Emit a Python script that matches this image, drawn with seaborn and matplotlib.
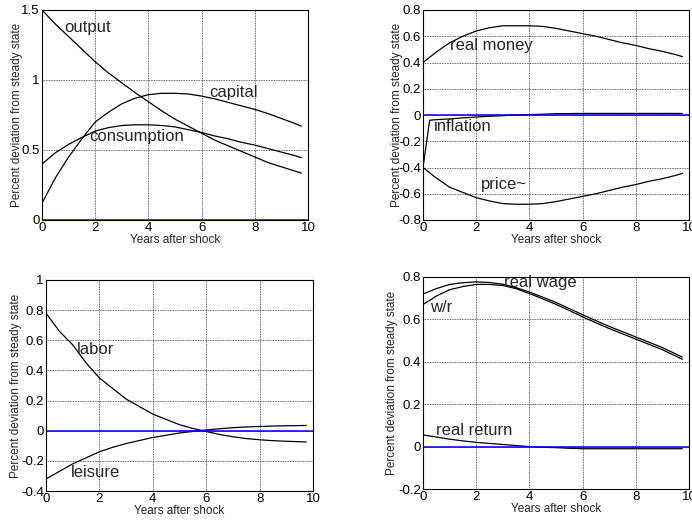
import numpy as np
import pandas as pd
import matplotlib
matplotlib.use("Agg")
import matplotlib.pyplot as plt
import seaborn as sns

# ---------------- data ----------------
years = [0, 0.5, 1, 1.5, 2, 2.5, 3, 3.5, 4, 4.5, 5, 5.5, 6, 6.5, 7, 7.5, 8, 8.5, 9, 9.5, 9.75]

output = [1.50, 1.40, 1.31, 1.22, 1.13, 1.05, 0.98, 0.91, 0.845, 0.78, 0.72, 0.67, 0.62,
          0.57, 0.53, 0.49, 0.45, 0.41, 0.38, 0.35, 0.335]
capital = [0.12, 0.30, 0.45, 0.58, 0.70, 0.77, 0.83, 0.87, 0.895, 0.905, 0.905, 0.90, 0.885,
           0.865, 0.84, 0.815, 0.79, 0.76, 0.725, 0.69, 0.67]
consumption = [0.40, 0.48, 0.54, 0.59, 0.635, 0.66, 0.675, 0.68, 0.68, 0.675, 0.665, 0.645, 0.625,
               0.60, 0.58, 0.555, 0.535, 0.51, 0.485, 0.46, 0.445]

real_money = [0.40, 0.48, 0.55, 0.60, 0.64, 0.665, 0.68, 0.68, 0.68, 0.675, 0.66, 0.64, 0.62,
              0.60, 0.575, 0.55, 0.53, 0.505, 0.485, 0.46, 0.445]
price = [-0.40, -0.48, -0.55, -0.59, -0.63, -0.655, -0.675, -0.68, -0.68, -0.675, -0.66, -0.64, -0.62,
         -0.60, -0.575, -0.55, -0.53, -0.505, -0.485, -0.46, -0.445]
infl_years = [0, 0.25, 0.5, 1, 1.5, 2, 2.5, 3, 3.5, 4, 4.5, 5, 6, 7, 8, 9, 9.75]
inflation = [-0.40, -0.04, -0.035, -0.03, -0.022, -0.015, -0.01, -0.005, 0.0, 0.003, 0.006, 0.01,
             0.012, 0.012, 0.012, 0.012, 0.012]

labor = [0.78, 0.66, 0.57, 0.45, 0.35, 0.28, 0.21, 0.16, 0.11, 0.075, 0.04, 0.015, -0.005,
         -0.025, -0.04, -0.052, -0.06, -0.066, -0.07, -0.073, -0.075]
leisure = [-0.32, -0.27, -0.22, -0.18, -0.14, -0.11, -0.085, -0.065, -0.045, -0.03, -0.015, -0.005, 0.005,
           0.013, 0.02, 0.025, 0.028, 0.031, 0.033, 0.034, 0.035]

real_wage = [0.72, 0.745, 0.765, 0.773, 0.777, 0.774, 0.766, 0.75, 0.729, 0.705, 0.68, 0.651, 0.622,
             0.594, 0.567, 0.542, 0.517, 0.492, 0.467, 0.437, 0.422]
w_r = [0.67, 0.71, 0.74, 0.755, 0.765, 0.765, 0.76, 0.745, 0.722, 0.697, 0.671, 0.642, 0.612,
       0.584, 0.557, 0.532, 0.507, 0.482, 0.457, 0.427, 0.412]
real_return = [0.055, 0.045, 0.035, 0.027, 0.02, 0.015, 0.01, 0.005, 0.0, -0.003, -0.005, -0.008, -0.01,
               -0.01, -0.01, -0.01, -0.01, -0.01, -0.01, -0.01, -0.01]

zero_x = [0, 10]
zero_y = [0, 0]

xticks = [0, 2, 4, 6, 8, 10]

# ---------------- style ----------------
sns.set_style("white")
plt.rcParams['font.family'] = ['Liberation Sans', 'DejaVu Sans']
plt.rcParams['axes.edgecolor'] = 'black'
plt.rcParams['axes.linewidth'] = 0.8

fig = plt.figure(figsize=(6.92, 5.21), dpi=100)
W, H = 692, 521

def make_ax(left, top, right, bottom):
    return fig.add_axes([left / W, 1 - bottom / H, (right - left) / W, (bottom - top) / H])

ax1 = make_ax(42, 10, 308, 220)
ax2 = make_ax(423, 10, 689, 220)
ax3 = make_ax(46, 280, 313, 491)
ax4 = make_ax(423, 277, 689, 489)

def style(ax, yticks, ylim, ylab_off):
    ax.set_xlim(0, 10)
    ax.set_ylim(*ylim)
    ax.set_xticks(xticks)
    ax.set_yticks(yticks)
    ax.set_xticklabels([str(t) for t in xticks])
    ax.set_yticklabels([("%g" % t) for t in yticks])
    ax.grid(True, linestyle=(0, (1, 1)), color='#333333', linewidth=0.6)
    ax.tick_params(direction='in', length=3, labelsize=9.5, pad=1.5, colors='black')
    for s in ax.spines.values():
        s.set_visible(True)
        s.set_color('black')
    ax.set_xlabel('Years after shock', fontsize=8.5)
    ax.set_ylabel('Percent deviation from steady state', fontsize=8.5)
    w = ax.get_position().width * W
    h = ax.get_position().height * H
    ax.xaxis.set_label_coords(0.5, -14 / h)
    ax.yaxis.set_label_coords(-ylab_off / w, 0.5)

def line(ax, x, y, color='black', lw=0.9):
    sns.lineplot(x=x, y=y, ax=ax, color=color, linewidth=lw, legend=False, sort=False)

lab_fs = 12

# Panel 1
line(ax1, years, output)
line(ax1, years, capital)
line(ax1, years, consumption)
line(ax1, zero_x, zero_y, color='#0000dd', lw=1.1)
style(ax1, [0, 0.5, 1, 1.5], (0, 1.5), 19)
ax1.text(0.83, 1.376, 'output', fontsize=lab_fs, va='center')
ax1.text(6.27, 0.91, 'capital', fontsize=lab_fs, va='center')
ax1.text(1.78, 0.595, 'consumption', fontsize=lab_fs, va='center')

# Panel 2
line(ax2, years, real_money)
line(ax2, infl_years, inflation)
line(ax2, years, price)
line(ax2, zero_x, zero_y, color='#0000dd', lw=1.1)
style(ax2, [-0.8, -0.6, -0.4, -0.2, 0, 0.2, 0.4, 0.6, 0.8], (-0.8, 0.8), 20)
ax2.text(1.0, 0.53, 'real money', fontsize=lab_fs, va='center')
ax2.text(0.4, -0.09, 'inflation', fontsize=lab_fs, va='center')
ax2.text(2.16, -0.53, 'price~', fontsize=lab_fs, va='center')

# Panel 3
line(ax3, years, labor)
line(ax3, years, leisure)
line(ax3, zero_x, zero_y, color='#0000dd', lw=1.1)
style(ax3, [-0.4, -0.2, 0, 0.2, 0.4, 0.6, 0.8, 1], (-0.4, 1.0), 24)
ax3.text(1.17, 0.54, 'labor', fontsize=lab_fs, va='center')
ax3.text(0.92, -0.28, 'leisure', fontsize=lab_fs, va='center')

# Panel 4
line(ax4, years, real_wage)
line(ax4, years, w_r)
line(ax4, years, real_return)
line(ax4, zero_x, zero_y, color='#0000dd', lw=1.1)
style(ax4, [-0.2, 0, 0.2, 0.4, 0.6, 0.8], (-0.2, 0.8), 25)
ax4.text(3.03, 0.774, 'real wage', fontsize=lab_fs, va='center')
ax4.text(0.28, 0.657, 'w/r', fontsize=lab_fs, va='center')
ax4.text(0.48, 0.074, 'real return', fontsize=lab_fs, va='center')

fig.savefig('out.png', dpi=100)
